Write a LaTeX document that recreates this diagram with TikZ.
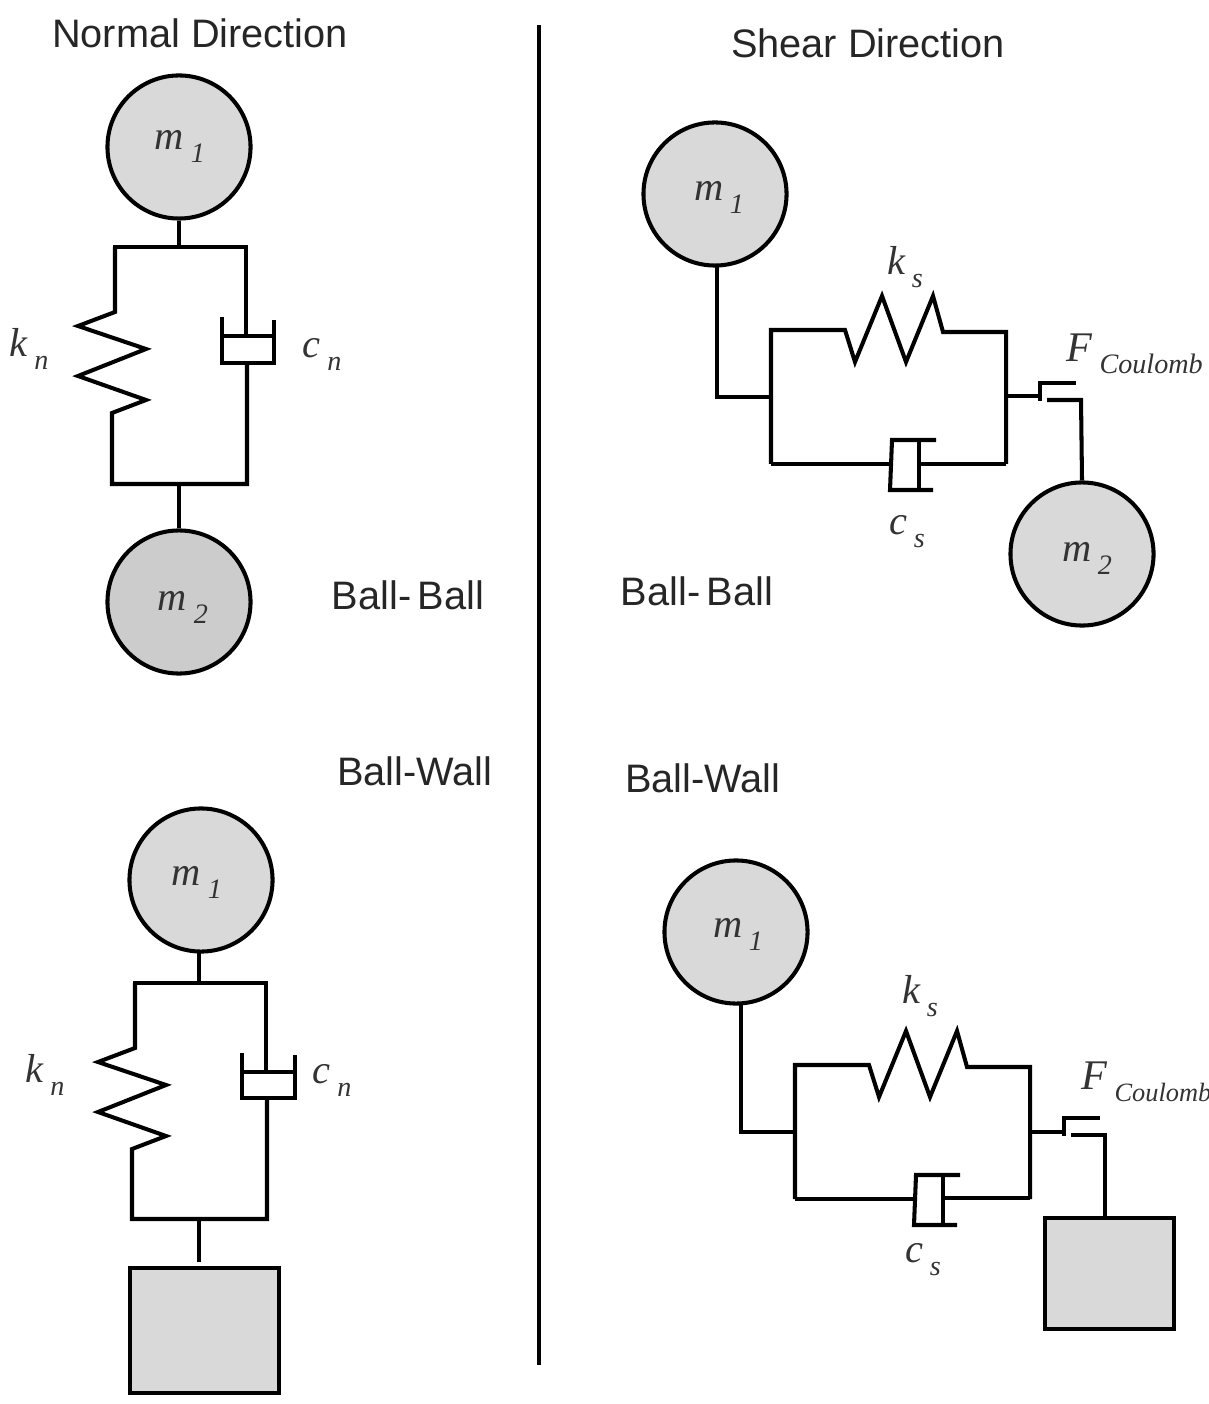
\documentclass[tikz,border=0pt]{standalone}
\usepackage{fontspec}
\setmainfont{Liberation Sans}
\newfontfamily\symfont{Liberation Serif}
\newcommand{\symb}[2]{{\symfont\itshape\color{black!80}\fontsize{11.5}{12}\selectfont #1\,\raisebox{-0.7ex}{\fontsize{8}{9}\selectfont #2}}}
\definecolor{ballgray}{gray}{0.85}
\definecolor{balldark}{gray}{0.8}
\tikzset{
    link/.style={line width=1.15pt,line join=miter},
    ball/.style={circle,draw,line width=1.15pt,fill=ballgray,minimum size=1.43cm,inner sep=0pt},
    wall/.style={draw,line width=1.15pt,fill=ballgray,inner sep=0pt,anchor=north west},
    head/.style={text=black!85,font=\fontsize{11.3}{13}\selectfont},
    symbol/.style={inner sep=0pt}
}

\begin{document}
\begin{tikzpicture}[x=0.01cm,y=-0.01cm]
            \useasboundingbox (0,0) rectangle (1208,1404);

            % Headings and divider
            \node [head] (normal) at (200,33) {Normal Direction};
            \node [head] (shear) at (868,43) {Shear Direction};
            \node [head] (bbleft) at (408,595) {Ball-\,Ball};
            \node [head] (bbright) at (697,591) {Ball-\,Ball};
            \node [head] (bwleft) at (415,771) {Ball-Wall};
            \node [head] (bwright) at (703,778) {Ball-Wall};
            \draw [link] (539,25) -- (539,1365);

            % Normal, ball-ball
            \node [ball] (ma) at (179,147) {};
            \node [ball,fill=balldark] (mb) at (179,602) {};
            \node [symbol] (malabel) at (180,146) {\symb{m}{1}};
            \node [symbol] (mblabel) at (183,607) {\symb{m}{2}};
            \node [symbol] (kna) at (29,349) {\symb{k}{n}};
            \node [symbol] (cna) at (322,354) {\symb{c}{n}};
            \draw [link] (ma.south) -- (179,247);
            \draw [link] (113,247) -- (246,247) -- (246,336);
            \draw [link] (115,247) -- (115,312) -- (78,326) -- (146,349) -- (78,376) -- (146,400) -- (112,413) -- (112,484) -- (247,484) -- (247,365);
            \draw [link] (222,317) -- (222,363) -- (274,363) -- (274,320);
            \draw [link] (222,336) -- (274,336);
            \draw [link] (179,484) -- (mb.north);

            % Normal, ball-wall
            \node [ball] (mc) at (201,880) {};
            \node [wall,minimum width=1.49cm,minimum height=1.25cm] (wa) at (128,1266) {};
            \node [symbol] (mclabel) at (197,882) {\symb{m}{1}};
            \node [symbol] (knb) at (45,1075) {\symb{k}{n}};
            \node [symbol] (cnb) at (332,1080) {\symb{c}{n}};
            \draw [link] (199,952) -- (199,983);
            \draw [link] (133,983) -- (266,983) -- (266,1072);
            \draw [link] (135,983) -- (135,1048) -- (98,1062) -- (166,1085) -- (98,1112) -- (166,1136) -- (132,1149) -- (132,1219) -- (267,1219) -- (267,1100);
            \draw [link] (242,1053) -- (242,1098) -- (295,1098) -- (295,1055);
            \draw [link] (242,1072) -- (295,1072);
            \draw [link] (199,1219) -- (199,1262);

            % Shear, ball-ball
            \node [ball] (md) at (715,194) {};
            \node [ball] (me) at (1082,554) {};
            \node [symbol] (mdlabel) at (719,197) {\symb{m}{1}};
            \node [symbol] (melabel) at (1087,558) {\symb{m}{2}};
            \node [symbol] (ksa) at (905,267) {\symb{k}{s}};
            \node [symbol] (csa) at (907,532) {\symb{c}{s}};
            \node [symbol,anchor=west] (fa) at (1066,354) {\symfont\itshape\color{black!80}\fontsize{12}{13}\selectfont F\,\raisebox{-0.6ex}{\fontsize{8}{9}\selectfont Coulomb}};
            \draw [link] (717,266) -- (717,397) -- (771,397);
            \draw [link] (771,464) -- (771,330) -- (845,330) -- (855,362) -- (882,296) -- (906,362) -- (933,296) -- (943,332) -- (1006,332) -- (1006,464);
            \draw [link] (771,464) -- (891,464);
            \draw [link] (919,464) -- (1006,464);
            \draw [link] (936,440) -- (892,440) -- (890,490) -- (933,490);
            \draw [link] (919,440) -- (919,490);
            \draw [link] (1006,396) -- (1040,396);
            \draw [link] (1076,383) -- (1040,383) -- (1040,401);
            \draw [link] (1047,400) -- (1081,400) -- (me.north);

            % Shear, ball-wall
            \node [ball] (mf) at (736,932) {};
            \node [wall,minimum width=1.29cm,minimum height=1.11cm] (wb) at (1043,1216) {};
            \node [symbol] (mflabel) at (738,934) {\symb{m}{1}};
            \node [symbol] (ksb) at (920,996) {\symb{k}{s}};
            \node [symbol] (csb) at (923,1260) {\symb{c}{s}};
            \node [symbol,anchor=west] (fb) at (1081,1082) {\symfont\itshape\color{black!80}\fontsize{12}{13}\selectfont F\,\raisebox{-0.6ex}{\fontsize{7.5}{9}\selectfont Coulomb}};
            \draw [link] (741,1004) -- (741,1132) -- (795,1132);
            \draw [link] (795,1199) -- (795,1065) -- (869,1065) -- (879,1097) -- (906,1031) -- (930,1097) -- (957,1031) -- (967,1067) -- (1030,1067) -- (1030,1199);
            \draw [link] (795,1199) -- (915,1199);
            \draw [link] (943,1198) -- (1030,1198);
            \draw [link] (960,1175) -- (916,1175) -- (914,1225) -- (957,1225);
            \draw [link] (943,1175) -- (943,1225);
            \draw [link] (1030,1132) -- (1064,1132);
            \draw [link] (1100,1118) -- (1064,1118) -- (1064,1136);
            \draw [link] (1071,1135) -- (1105,1135) -- (wb.north -| 1105,1135);
\end{tikzpicture}
\end{document}
